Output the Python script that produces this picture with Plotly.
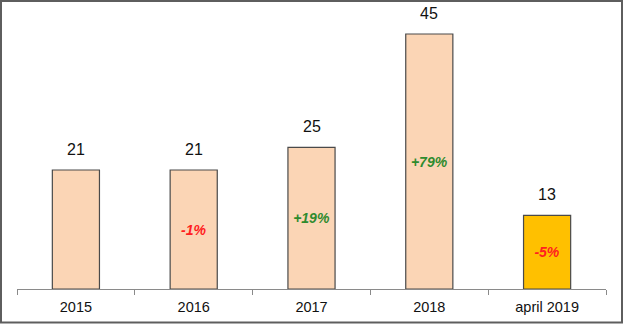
import plotly.graph_objects as go

# Yearly totals and change vs. previous period
categories = ["2015", "2016", "2017", "2018", "april 2019"]
values = [21, 21, 25, 45, 13]
changes = ["", "-1%", "+19%", "+79%", "-5%"]
change_colors = ["#000000", "#FF2020", "#2E8B2E", "#2E8B2E", "#FF2020"]
bar_colors = ["#FBD5B5", "#FBD5B5", "#FBD5B5", "#FBD5B5", "#FFC000"]

W, H = 625, 325
ML, MR, MT, MB = 17, 19, 17, 36
FONT = "Liberation Sans, Arial, sans-serif"

fig = go.Figure()
fig.add_trace(go.Bar(
    x=categories,
    y=values,
    width=0.4,
    marker=dict(color=bar_colors, line=dict(color="#4a4a4a", width=1.2)),
    text=[f"<b><i>{c}</i></b>" if c else "" for c in changes],
    textposition="inside",
    insidetextanchor="middle",
    textangle=0,
    textfont=dict(family=FONT, size=14, color=change_colors),
    hoverinfo="skip",
))

# Value labels above each bar (category index positions, since
# year-like strings would otherwise be read as numeric indices)
for i, v in enumerate(values):
    fig.add_annotation(
        x=i, y=v, text=str(v), showarrow=False,
        yanchor="bottom", yshift=10,
        font=dict(family=FONT, size=16, color="#111111"),
    )

# Outer frame around the whole chart
pw = W - ML - MR
ph = H - MT - MB
fig.add_shape(
    type="rect", xref="paper", yref="paper",
    x0=(-ML + 1) / pw, x1=1 + (MR - 3) / pw,
    y0=-(MB - 2.5) / ph, y1=1 + (MT - 1) / ph,
    line=dict(color="#5e5e5e", width=2),
    fillcolor="rgba(0,0,0,0)",
)

fig.update_layout(
    width=W, height=H,
    margin=dict(l=ML, r=MR, t=MT, b=MB, autoexpand=False),
    paper_bgcolor="white",
    plot_bgcolor="white",
    showlegend=False,
    bargap=0.6,
    font=dict(family=FONT, size=14, color="#111111"),
)
fig.update_xaxes(
    type="category",
    automargin=False,
    range=[-0.5, len(categories) - 0.5],
    showline=True, linecolor="#8a8a8a", linewidth=1,
    ticks="outside", tickson="boundaries", ticklen=5, tickcolor="#8a8a8a",
    ticklabelstandoff=5,
    tickfont=dict(family=FONT, size=14.5, color="#111111"),
    showgrid=False,
)
fig.update_yaxes(visible=False, automargin=False, range=[0, 48], showgrid=False)

fig.write_html("out.html")
